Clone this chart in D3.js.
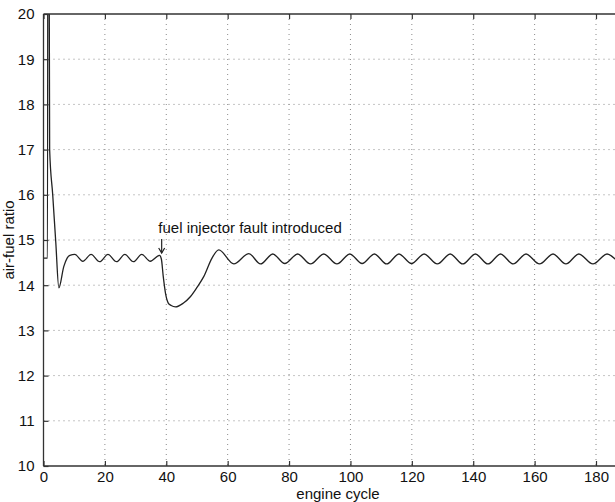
<!DOCTYPE html>
<html>
<head>
<meta charset="utf-8">
<script src="https://cdn.jsdelivr.net/npm/d3@7"></script>
<style>
  html, body { margin: 0; padding: 0; background: #fff; }
  svg { display: block; }
  text { font-family: "Liberation Sans", Arial, Helvetica, sans-serif; fill: #111; }
</style>
</head>
<body>
<svg id="chart" width="615" height="502"></svg>
<script>
// Engine cycle (x) and measured air-fuel ratio (y), sampled at turning points
const cycles = [
  0, 1.3, 1.5, 2, 3, 4, 5, 6.6, 7.7, 8.6, 10.2,
  12.8, 15.5, 18.3, 21, 23.8, 26.5, 29.3, 32, 34.8, 37.8,
  38.4, 39.0, 39.8, 40.6, 41.6, 43, 45.5, 47.9, 50, 52.2, 54.9, 57.1,
  62, 66.9, 70.7, 74.7, 78.6, 82.8, 87, 91.3, 95.6, 99.8,
  103.8, 107.8, 111.8, 115.8, 119.9, 124, 128.3, 132.5, 136.6, 140.7,
  144.8, 148.9, 153, 157.2, 161.6, 166, 170.2, 174.4, 179, 183.6, 186.5
];
const afr = [
  14.6, 14.6, 30, 17.0, 16.0, 14.95, 13.94, 14.41, 14.6, 14.66, 14.68,
  14.53, 14.68, 14.52, 14.68, 14.52, 14.68, 14.52, 14.68, 14.53, 14.66,
  14.58, 14.2, 13.8, 13.61, 13.55, 13.52, 13.6, 13.75, 13.95, 14.19, 14.6, 14.78,
  14.47, 14.7, 14.47, 14.69, 14.48, 14.69, 14.47, 14.69, 14.47, 14.69,
  14.48, 14.69, 14.47, 14.69, 14.48, 14.69, 14.47, 14.69, 14.47, 14.69,
  14.47, 14.69, 14.47, 14.69, 14.47, 14.69, 14.47, 14.69, 14.47, 14.69, 14.56
];

const xTicks = [0, 20, 40, 60, 80, 100, 120, 140, 160, 180];
const yTicks = [10, 11, 12, 13, 14, 15, 16, 17, 18, 19, 20];

const xLabel = "engine cycle";
const yLabel = "air-fuel ratio";
const note = "fuel injector fault introduced";
const faultCycle = 38.5;

const W = 615, H = 502;
const plotL = 43.5, plotT = 14, plotB = 466, plotR = W;

const x = d3.scaleLinear().domain([0, 180]).range([plotL, 596]);
const y = d3.scaleLinear().domain([10, 20]).range([plotB, plotT]);

const svg = d3.select("#chart");

svg.append("defs").append("clipPath").attr("id", "plot")
  .append("rect").attr("x", plotL).attr("y", plotT)
  .attr("width", plotR - plotL).attr("height", plotB - plotT);

// dotted grid
const grid = svg.append("g").attr("stroke", "#8a8a8a").attr("stroke-width", 1)
  .attr("stroke-dasharray", "1,4").attr("fill", "none");
grid.selectAll("line.gx").data(xTicks.slice(1)).join("line")
  .attr("x1", d => x(d)).attr("x2", d => x(d))
  .attr("y1", plotT).attr("y2", plotB);
grid.selectAll("line.gy").data(yTicks.slice(1, -1)).join("line")
  .attr("x1", plotL).attr("x2", plotR)
  .attr("y1", d => y(d)).attr("y2", d => y(d));

// data trace
const pts = cycles.map((c, i) => [c, afr[i]]);
const line = d3.line().x(d => x(d[0])).y(d => y(d[1])).curve(d3.curveMonotoneX);
svg.append("path").datum(pts)
  .attr("clip-path", "url(#plot)")
  .attr("d", line)
  .attr("fill", "none").attr("stroke", "#222").attr("stroke-width", 1.3)
  .attr("stroke-linejoin", "round");

// axes with inward ticks, box edges on left, bottom and top
const axisColor = "#333";
const xAxis = svg.append("g").attr("transform", `translate(0,${plotB})`)
  .call(d3.axisBottom(x).tickValues(xTicks).tickSizeInner(-5).tickSizeOuter(0).tickPadding(5.5).tickFormat(d3.format("d")));
const yAxis = svg.append("g").attr("transform", `translate(${plotL},0)`)
  .call(d3.axisLeft(y).tickValues(yTicks).tickSizeInner(-5).tickSizeOuter(0).tickPadding(9).tickFormat(d3.format("d")));
const topAxis = svg.append("g").attr("transform", `translate(0,${plotT})`)
  .call(d3.axisTop(x).tickValues(xTicks).tickSizeInner(-5).tickSizeOuter(0).tickFormat(""));

[xAxis, yAxis, topAxis].forEach(g => {
  g.select(".domain").remove();
  g.selectAll(".tick line").attr("stroke", axisColor).attr("stroke-width", 1.2);
  g.selectAll(".tick text").attr("font-size", 15).attr("fill", "#111")
    .style("font-family", '"Liberation Sans", Arial, Helvetica, sans-serif');
});
xAxis.selectAll(".tick text").attr("dy", "0.71em");

const frame = svg.append("g").attr("stroke", axisColor).attr("stroke-width", 1.3);
frame.append("line").attr("x1", plotL).attr("x2", plotL).attr("y1", plotT).attr("y2", plotB);
frame.append("line").attr("x1", plotL).attr("x2", plotR).attr("y1", plotB).attr("y2", plotB);
frame.append("line").attr("x1", plotL).attr("x2", plotR).attr("y1", plotT).attr("y2", plotT);

// axis titles
svg.append("text").attr("x", 338).attr("y", 499)
  .attr("text-anchor", "middle").attr("font-size", 15).text(xLabel);
svg.append("text")
  .attr("transform", `translate(14,${(plotT + plotB) / 2}) rotate(-90)`)
  .attr("text-anchor", "middle").attr("font-size", 15).text(yLabel);

// annotation
const ax = x(faultCycle);
svg.append("text").attr("x", x(37.4)).attr("y", 233)
  .attr("font-size", 15).text(note);
const arrow = svg.append("g").attr("stroke", "#222").attr("stroke-width", 1.2).attr("fill", "none");
arrow.append("line").attr("x1", ax).attr("x2", ax).attr("y1", 239).attr("y2", 253);
arrow.append("path").attr("d", `M${ax - 3},${248} L${ax},${253} L${ax + 3},${248}`);
</script>
</body>
</html>
